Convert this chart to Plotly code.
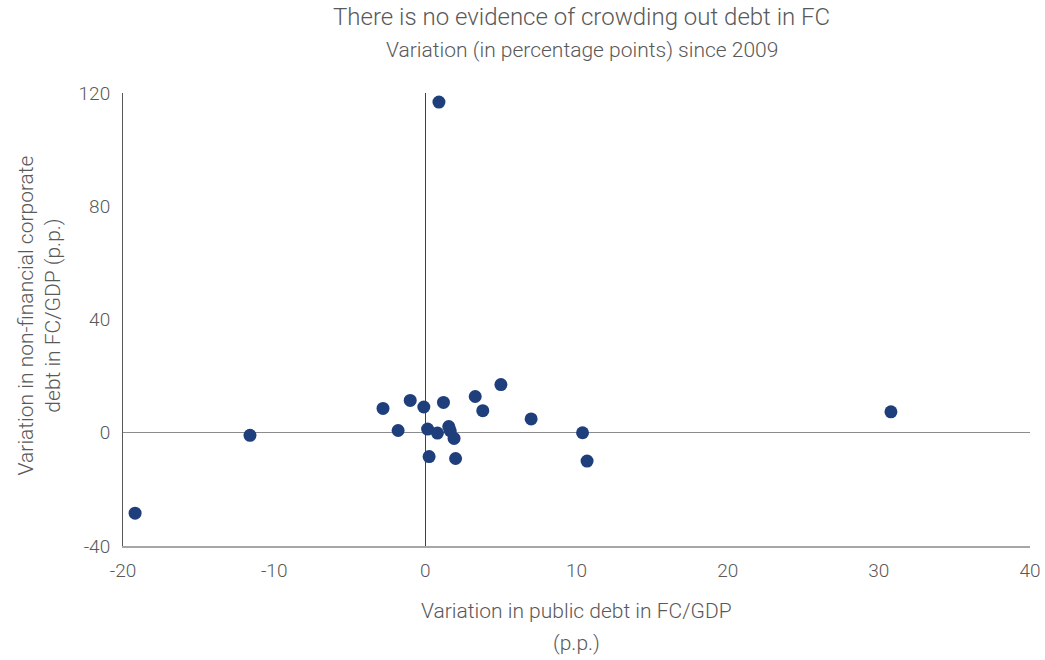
"""
Scatter: variation in public vs non-financial corporate debt in FC since 2009.
"""

import plotly.graph_objects as go

# variation in public debt in FC/GDP (p.p.)
public_debt = [-19.2, -11.6, -2.8, -1.0, -0.1, -1.8, 0.15, 0.25, 0.8, 1.2,
               1.55, 1.65, 1.9, 2.0, 3.3, 3.8, 5.0, 7.0, 10.4, 10.7,
               0.9, 30.8]
# variation in non-financial corporate debt in FC/GDP (p.p.)
corp_debt = [-28.4, -0.9, 8.6, 11.4, 9.1, 0.8, 1.3, -8.4, -0.1, 10.7,
             2.2, 0.7, -2.0, -9.1, 12.8, 7.8, 17.0, 4.9, 0.0, -10.0,
             116.8, 7.4]

x_ticks = [-20, -10, 0, 10, 20, 30, 40]
y_ticks = [-40, 0, 40, 80, 120]

FONT = "Roboto"
TEXT = "#595959"

fig = go.Figure(
    go.Scatter(
        x=public_debt,
        y=corp_debt,
        mode="markers",
        marker=dict(color="#1f3e7c", size=13),
        hoverinfo="x+y",
    )
)


def note(text, x, y, size, angle=0):
    fig.add_annotation(
        text=text, x=x, y=y, xref="paper", yref="paper",
        xanchor="center", yanchor="middle", showarrow=False,
        textangle=angle,
        font=dict(family=FONT, size=size, color=TEXT, weight=300),
    )


fig.update_layout(
    width=1045,
    height=660,
    margin=dict(l=123, r=15, t=93, b=114),
    plot_bgcolor="white",
    paper_bgcolor="white",
    font=dict(family=FONT, color=TEXT, size=19, weight=300),
    showlegend=False,
)

# titles and axis titles as annotations for exact placement
note("There is no evidence of crowding out debt in FC", 0.506, 1.168, 24)
note("Variation (in percentage points) since 2009", 0.506, 1.095, 21)
note("Variation in public debt in FC/GDP", 0.5, -0.143, 21)
note("(p.p.)", 0.5, -0.214, 21)
note("Variation in non-financial corporate<br>debt in FC/GDP (p.p.)",
     -0.092, 0.508, 21, angle=-90)

fig.update_xaxes(
    range=[-20, 40],
    tickvals=x_ticks,
    ticktext=[str(v) for v in x_ticks],
    showgrid=False,
    showline=True,
    linecolor="#a6a6a6",
    linewidth=1.5,
    zeroline=True,
    zerolinecolor="#404040",
    zerolinewidth=1,
    ticks="",
    ticklabelstandoff=6,
    automargin=False,
    tickfont=dict(size=19),
)
fig.update_yaxes(
    range=[-40, 120],
    tickvals=y_ticks,
    ticktext=[str(v) for v in y_ticks],
    showgrid=False,
    showline=True,
    linecolor="#595959",
    linewidth=1,
    zeroline=True,
    zerolinecolor="#8c8c8c",
    zerolinewidth=1.2,
    ticks="",
    ticklabelstandoff=8,
    automargin=False,
    tickfont=dict(size=19),
)

# drop the default 8px body margin so the figure fills the window
fig.write_html(
    "out.html",
    config={"displayModeBar": False},
    post_script="document.body.style.margin='0';",
)
